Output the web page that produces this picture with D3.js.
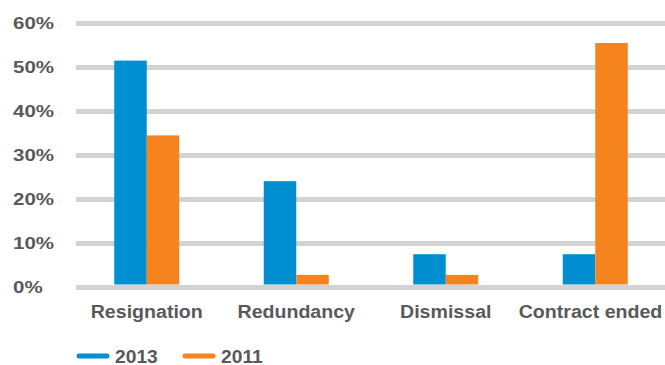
<!DOCTYPE html>
<html>
<head>
<meta charset="utf-8">
<script src="https://cdn.jsdelivr.net/npm/d3@7/dist/d3.min.js"></script>
<style>
  html, body { margin: 0; padding: 0; background: #fff; }
  svg { display: block; }
  text { font-family: "Liberation Sans", Arial, Helvetica, sans-serif; font-weight: bold; fill: #58595b; }
</style>
</head>
<body>
<svg id="chart" width="665" height="365"></svg>
<script>
// Reasons for leaving, share of respondents (%)
const categories = ["Resignation", "Redundancy", "Dismissal", "Contract ended"];
const series = ["2013", "2011"];
const values2013 = [51, 23.6, 7, 7];
const values2011 = [34, 2.3, 2.3, 55];
const yTicks = [0, 10, 20, 30, 40, 50, 60];
const colors = ["#008fd1", "#f5841f"];

const svg = d3.select("#chart");
const W = 665;

const y = d3.scaleLinear().domain([0, 60]).range([285, 21]);
const x = d3.scaleBand().domain(categories).range([72, 670]);
const xs = d3.scaleBand().domain(series).range([-32.5, 32.5]);

// Gridlines
svg.append("g").selectAll("rect")
  .data(yTicks)
  .join("rect")
  .attr("x", 76)
  .attr("y", d => y(d))
  .attr("width", W - 76)
  .attr("height", 5)
  .attr("fill", "#d3d3d4");

// Y tick labels, left-aligned
svg.append("g").selectAll("text")
  .data(yTicks)
  .join("text")
  .attr("transform", d => `translate(13,${y(d) + 2.5 + 5.8}) scale(1.28,1)`)
  .attr("font-size", 16)
  .text(d => d + "%");

// Bars
const data = [values2013, values2011];
const groups = svg.append("g").selectAll("g")
  .data(series.map((s, i) => ({ s, vals: data[i], c: colors[i] })))
  .join("g")
  .attr("fill", d => d.c);

groups.selectAll("rect")
  .data(d => d.vals.map((v, j) => ({ s: d.s, v, cat: categories[j] })))
  .join("rect")
  .attr("x", d => x(d.cat) + x.bandwidth() / 2 + xs(d.s))
  .attr("y", d => y(d.v))
  .attr("width", xs.bandwidth())
  .attr("height", d => y(0) - y(d.v) - 0.5);

// Category labels
svg.append("g").selectAll("text")
  .data(categories)
  .join("text")
  .attr("transform", d => {
    const cx = Math.min(x(d) + x.bandwidth() / 2, 590.5);
    return `translate(${cx},317.7) scale(1.12,1)`;
  })
  .attr("text-anchor", "middle")
  .attr("font-size", 17.5)
  .text(d => d);

// Legend
const legend = svg.append("g").selectAll("g")
  .data(series)
  .join("g")
  .attr("transform", (d, i) => `translate(${79 + i * 106},356)`);

legend.append("line")
  .attr("x1", 0).attr("x2", 28)
  .attr("y1", 0).attr("y2", 0)
  .attr("stroke", (d, i) => colors[i])
  .attr("stroke-width", 5)
  .attr("stroke-linecap", "round");

legend.append("text")
  .attr("transform", "translate(36,6.5) scale(1.1,1)")
  .attr("font-size", 17.5)
  .text(d => d);
</script>
</body>
</html>
